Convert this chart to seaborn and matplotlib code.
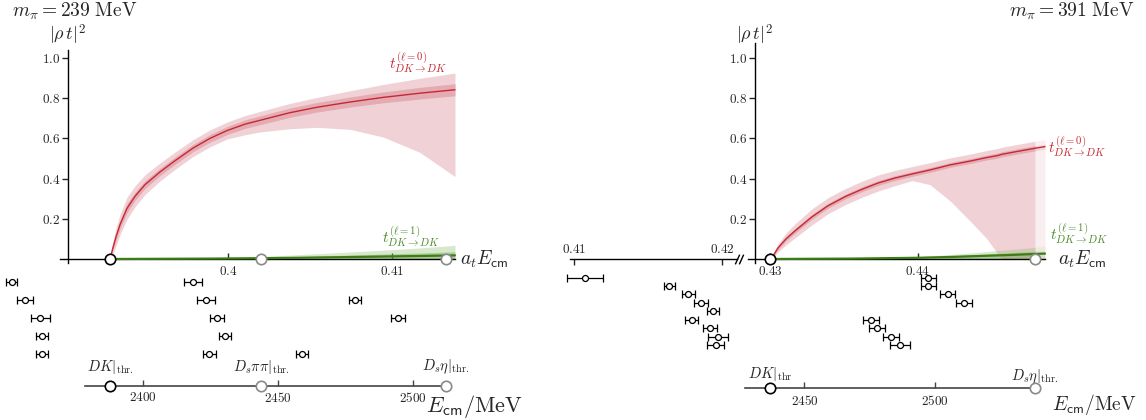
import numpy as np
import matplotlib
matplotlib.use("Agg")
import matplotlib.pyplot as plt
import seaborn as sns
from matplotlib.ticker import FuncFormatter

# ------------------------------------------------------------------ data
# m_pi = 239 MeV ensemble, a_t^-1 = 6079 MeV
ainv_239 = 6079.0
thr_239 = [0.39281, 0.40201, 0.41329]          # DK, Ds pi pi, Ds eta
thr_239_lab = [r"$DK|_{\mathrm{thr.}}$", r"$D_s\pi\pi|_{\mathrm{thr.}}$",
               r"$D_s\eta|_{\mathrm{thr.}}$"]

s0_239_E = [0.39281, 0.39287, 0.39299, 0.39317, 0.39342, 0.39384, 0.39433,
            0.39494, 0.39585, 0.39677, 0.39787, 0.39890, 0.39994, 0.40104,
            0.40195, 0.40378, 0.40543, 0.40744, 0.40945, 0.41171, 0.41384]
s0_239_mid = [0, .02, .058, .11, .172, .252, .312, .37, .433, .489, .552,
              .600, .639, .671, .690, .728, .755, .781, .804, .825, .842]
s0_239_in_lo = [0, .014, .046, .092, .152, .23, .292, .351, .415, .471, .534,
                .581, .619, .65, .668, .705, .731, .756, .777, .796, .812]
s0_239_in_hi = [0, .026, .07, .128, .192, .274, .332, .389, .451, .507, .57,
                .619, .659, .692, .712, .751, .779, .806, .831, .854, .872]
s0_239_out_lo = [0, .008, .028, .065, .122, .197, .26, .321, .388, .446, .51,
                 .558, .597, .618, .632, .648, .655, .645, .607, .530, .410]
s0_239_out_hi = [0, .032, .088, .155, .222, .307, .364, .419, .478, .532,
                 .594, .642, .681, .714, .734, .774, .804, .837, .868, .899,
                 .925]

p1_239_E = [0.39281, 0.39585, 0.39890, 0.40195, 0.40439, 0.40683, 0.40927,
            0.41171, 0.41384]
p1_239_mid = [0, .001, .002, .004, .006, .009, .012, .015, .018]
p1_239_in_hi = [0, .002, .004, .008, .012, .018, .024, .030, .036]
p1_239_out_hi = [0, .003, .006, .012, .022, .032, .043, .055, .068]

lev_239_E = [0.38681, 0.39788, 0.38762, 0.39866, 0.40774, 0.38854, 0.39935,
             0.41038, 0.38864, 0.39982, 0.38864, 0.39886, 0.40449]
lev_239_err = [0.00034, 0.00055, 0.00049, 0.00052, 0.00034, 0.00058, 0.00043,
               0.00043, 0.00037, 0.00037, 0.00037, 0.00040, 0.00037]
lev_239_row = [0, 0, 1, 1, 1, 2, 2, 2, 3, 3, 4, 4, 4]

# m_pi = 391 MeV ensemble, a_t^-1 = 5667 MeV
ainv_391 = 5667.0
thr_391 = [0.43000, 0.44791]                   # DK, Ds eta
thr_391_lab = [r"$DK|_{\mathrm{thr}}$", r"$D_s\eta|_{\mathrm{thr.}}$"]

s0_391_E = [0.43000, 0.43020, 0.43054, 0.43108, 0.43169, 0.43284, 0.43392,
            0.43507, 0.43622, 0.43730, 0.43845, 0.43960, 0.44081, 0.44216,
            0.44351, 0.44466, 0.44534, 0.44568, 0.44655, 0.44791, 0.44858]
s0_391_mid = [0, .015, .055, .10, .14, .21, .265, .31, .347, .378, .403, .423,
              .443, .468, .487, .505, .514, .521, .533, .551, .559]
s0_391_in_lo = [0, .01, .047, .09, .128, .198, .253, .298, .335, .366, .391,
                .411, .431, .456, .475, .493, .501, .508, .520, .538, .546]
s0_391_in_hi = [0, .02, .063, .11, .152, .222, .277, .322, .359, .39, .415,
                .435, .455, .48, .499, .517, .527, .534, .546, .564, .572]
s0_391_out_lo = [0, .005, .035, .07, .105, .17, .225, .27, .307, .338, .365,
                 .39, .37, .29, .19, .10, .03, 0, 0, 0, 0]
s0_391_out_hi = [0, .025, .075, .13, .175, .25, .305, .35, .387, .418, .441,
                 .46, .479, .503, .522, .54, .549, .556, .568, .586, .594]

p1_391_E = [0.43000, 0.43541, 0.44000, 0.44216, 0.44419, 0.44622, 0.44791,
            0.44858]
p1_391_mid = [0, .002, .006, .010, .015, .020, .025, .027]
p1_391_in_hi = [0, .003, .009, .015, .023, .031, .038, .042]
p1_391_out_hi = [0, .004, .012, .022, .034, .047, .058, .063]

lev_391_E = [0.41074, 0.41644, 0.41772, 0.41858, 0.41941, 0.41795, 0.41919,
             0.41971, 0.41957, 0.44070, 0.44070, 0.44201, 0.44313, 0.43682,
             0.43725, 0.43816, 0.43878]
lev_391_err = [0.00124, 0.00037, 0.00045, 0.00044, 0.00042, 0.00043, 0.00045,
               0.00068, 0.00059, 0.00051, 0.00051, 0.00049, 0.00054, 0.00054,
               0.00054, 0.00055, 0.00068]
lev_391_row = [0, 1, 2, 3, 4, 5, 6, 7, 8, 0, 1, 2, 3, 5, 6, 7, 8]

# ------------------------------------------------------------------ style
sns.set_theme(style="white")
plt.rcParams.update({
    "mathtext.fontset": "cm",
    "font.family": ["DejaVu Serif"],
    "axes.linewidth": 1.0,
    "axes.edgecolor": "black",
})

RED = "#c62832"
RED_OUT = "#f0d2d6"
RED_IN = "#e4abb3"
GREEN = "#3c7d16"
GREEN_TXT = "#4b8b2b"
GRAY = "#8a8a8a"
AXGRAY = "#444444"

W, H = 1146, 420
Y_LIM = ((259 - 420) / 201, 259 / 201)

fig = plt.figure(figsize=(W / 100, H / 100), dpi=100)


def make_axes(px0, px1, xlim):
    ax = fig.add_axes([px0 / W, 0, (px1 - px0) / W, 1])
    ax.set_xlim(*xlim)
    ax.set_ylim(*Y_LIM)
    ax.set_facecolor("none")
    for s in ax.spines.values():
        s.set_visible(False)
    return ax


def fmt(spec):
    return FuncFormatter(lambda v, _: ("$" + spec + "$").format(v))


def band(ax, x, lo, hi, color, alpha=1.0, thr=None, z=1):
    x = np.asarray(x)
    if thr is None:
        ax.fill_between(x, lo, hi, color=color, alpha=alpha, lw=0, zorder=z)
    else:
        ax.fill_between(x, lo, hi, where=x <= thr + 1e-9, color=color,
                        alpha=alpha, lw=0, zorder=z)
        ax.fill_between(x, lo, hi, where=x >= thr - 1e-9, color=color,
                        alpha=alpha * 0.35, lw=0, zorder=z)


def amplitudes(ax, s0, p1, thr=None):
    E, mid, ilo, ihi, olo, ohi = s0
    band(ax, E, olo, ohi, RED_OUT, thr=thr, z=1)
    band(ax, E, ilo, ihi, RED_IN, thr=thr, z=1.1)
    sns.lineplot(x=E, y=mid, ax=ax, color=RED, linewidth=1.0, sort=False,
                 zorder=2)
    pE, pmid, pin, pout = p1
    zeros = np.zeros(len(pE))
    band(ax, pE, zeros, pout, "#8fbf6f", alpha=0.35, thr=thr, z=1.2)
    band(ax, pE, zeros, pin, "#5f9a3a", alpha=0.35, thr=thr, z=1.3)
    sns.lineplot(x=pE, y=pmid, ax=ax, color=GREEN, linewidth=1.6, sort=False,
                 zorder=3)


def main_axes(ax, yaxis_at, x_bounds, y_top, xticks):
    ax.spines["left"].set_visible(True)
    ax.spines["left"].set_position(("data", yaxis_at))
    ax.spines["left"].set_bounds(-0.02, y_top)
    ax.spines["bottom"].set_visible(True)
    ax.spines["bottom"].set_position(("data", 0))
    ax.spines["bottom"].set_bounds(*x_bounds)
    ax.set_xticks(xticks)
    ax.set_yticks([0.2, 0.4, 0.6, 0.8, 1.0])
    ax.xaxis.set_major_formatter(fmt("{:g}"))
    ax.yaxis.set_major_formatter(fmt("{:.1f}"))
    ax.tick_params(axis="x", direction="in", length=4, width=1, pad=4,
                   labelsize=9.5, bottom=True)
    ax.tick_params(axis="y", direction="out", length=4, width=1, pad=1.5,
                   labelsize=9.5, left=True)
    ax.text(yaxis_at, 1.115, r"$|\rho\,t|^2$", ha="center", va="center",
            fontsize=13)


def levels(ax, E, err, row, y0, dy):
    y = y0 - dy * np.asarray(row)
    ax.errorbar(E, y, xerr=err, fmt="o", ms=4.3, mfc="white", mec="black",
                mew=0.9, ecolor="black", elinewidth=0.9, capsize=3,
                capthick=0.9, zorder=4)


def energy_axis(ax, ainv, y_e, e_bounds, ticks, thr, thr_lab, lab_dy):
    frac = (y_e - Y_LIM[0]) / (Y_LIM[1] - Y_LIM[0])
    sec = ax.secondary_xaxis(frac, functions=(lambda v: v * ainv,
                                              lambda e: e / ainv))
    sec.set_xticks(ticks)
    sec.xaxis.set_major_formatter(fmt("{:.0f}"))
    sec.tick_params(direction="in", length=4, width=1, pad=4, labelsize=9.5,
                    color=AXGRAY)
    sec.spines["bottom"].set_bounds(*e_bounds)
    sec.spines["bottom"].set_color(AXGRAY)
    sec.spines["bottom"].set_linewidth(1.2)
    for i, (t, lab) in enumerate(zip(thr, thr_lab)):
        ec = "black" if i == 0 else GRAY
        ax.plot([t], [y_e], "o", ms=7.5, mfc="white", mec=ec, mew=1.2,
                zorder=6, clip_on=False)
        ax.plot([t], [0], "o", ms=7.5, mfc="white", mec=ec, mew=1.2,
                zorder=6, clip_on=False)
        ax.text(t, y_e + lab_dy[i], lab, ha="center", va="center",
                fontsize=10.5)


# ------------------------------------------------------------ left panel
axL = make_axes(0, 540, (0.386098, 0.419024))
amplitudes(axL,
           (s0_239_E, s0_239_mid, s0_239_in_lo, s0_239_in_hi,
            s0_239_out_lo, s0_239_out_hi),
           (p1_239_E, p1_239_mid, p1_239_in_hi, p1_239_out_hi))
main_axes(axL, 0.390244, (0.389756, 0.413841), 1.04, [0.40, 0.41])
levels(axL, lev_239_E, lev_239_err, lev_239_row, -0.113, 0.090)
energy_axis(axL, ainv_239, -0.630, (2378.6, 2512.4), [2400, 2450, 2500],
            thr_239, thr_239_lab, [0.093, 0.093, 0.093])
axL.text(0.41335, 0.975, r"$t^{(\ell=0)}_{DK\to DK}$", color=RED,
         ha="right", va="center", fontsize=11)
axL.text(0.41293, 0.109, r"$t^{(\ell=1)}_{DK\to DK}$", color=GREEN_TXT,
         ha="right", va="center", fontsize=11)
axL.text(0.41415, 0.0, r"$a_tE_{\mathsf{cm}}$", ha="left", va="center",
         fontsize=14)
axL.text(0.41207, -0.735, r"$E_{\mathsf{cm}}/\mathrm{MeV}$", ha="left",
         va="center", fontsize=16)

# ----------------------------------------------------------- right panel
# broken-off piece of the energy axis holding the lowest levels
axB = make_axes(560, 742, (0.409054, 0.421351))
axB.spines["top"].set_visible(True)
axB.spines["top"].set_position(("data", 0))
axB.spines["top"].set_bounds(0.40973, 0.421014)
axB.xaxis.tick_top()
axB.set_xticks([0.41, 0.42])
axB.xaxis.set_major_formatter(fmt("{:g}"))
axB.tick_params(axis="x", direction="in", length=4, width=1, pad=2.5,
                labelsize=9.5, top=True, bottom=False, labeltop=True,
                labelbottom=False)
axB.set_yticks([])
axB.plot([0.421014, 0.42125], [0, 0], ls="none", marker=[(-0.45, -1), (0.45, 1)],
         ms=7, mec="black", mew=1.0, clip_on=False, zorder=5)
levels(axB, lev_391_E, lev_391_err, lev_391_row, -0.093, 0.0418)

axR = make_axes(745, 1146, (0.428311, 0.455405))
amplitudes(axR,
           (s0_391_E, s0_391_mid, s0_391_in_lo, s0_391_in_hi,
            s0_391_out_lo, s0_391_out_hi),
           (p1_391_E, p1_391_mid, p1_391_in_hi, p1_391_out_hi),
           thr=thr_391[1])
main_axes(axR, 0.428986, (0.428514, 0.448581), 1.075, [0.43, 0.44])
levels(axR, lev_391_E, lev_391_err, lev_391_row, -0.093, 0.0418)
energy_axis(axR, ainv_391, -0.642, (2427.2, 2538.3), [2450, 2500],
            thr_391, thr_391_lab, [0.07, 0.055])
axR.text(0.44878, 0.557, r"$t^{(\ell=0)}_{DK\to DK}$", color=RED,
         ha="left", va="center", fontsize=11)
axR.text(0.44892, 0.124, r"$t^{(\ell=1)}_{DK\to DK}$", color=GREEN_TXT,
         ha="left", va="center", fontsize=11)
axR.text(0.44946, 0.0, r"$a_tE_{\mathsf{cm}}$", ha="left", va="center",
         fontsize=14)
axR.text(0.44905, -0.726, r"$E_{\mathsf{cm}}/\mathrm{MeV}$", ha="left",
         va="center", fontsize=14)

fig.text(12 / W, 1 - 1 / H, r"$m_\pi = 239\ \mathrm{MeV}$", ha="left",
         va="top", fontsize=14)
fig.text(1135 / W, 1 - 1 / H, r"$m_\pi = 391\ \mathrm{MeV}$", ha="right",
         va="top", fontsize=14)

fig.savefig("out.png", dpi=100)
